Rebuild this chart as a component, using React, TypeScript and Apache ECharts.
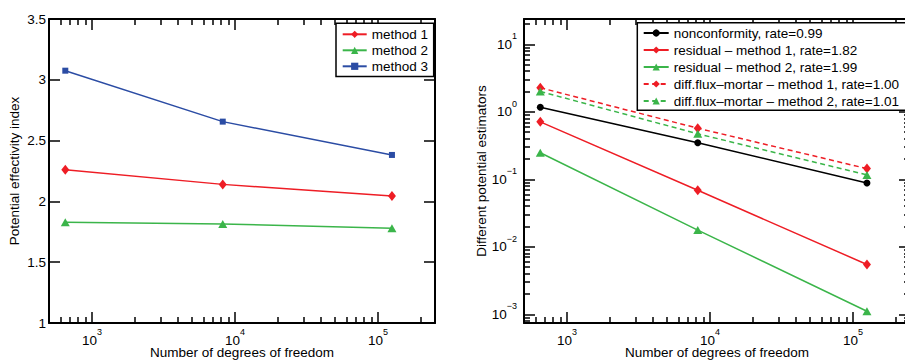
import React, { useEffect, useRef } from 'react';
import * as echarts from 'echarts';

// ---- data ----
const dof = [650, 8200, 125000];

const leftNames = ['method 1', 'method 2', 'method 3'];
const method1 = [2.26, 2.14, 2.045];
const method2 = [1.828, 1.814, 1.779];
const method3 = [3.075, 2.656, 2.382];

const rightNames = [
  'nonconformity, rate=0.99',
  'residual \u2013 method 1, rate=1.82',
  'residual \u2013 method 2, rate=1.99',
  'diff.flux\u2013mortar \u2013 method 1, rate=1.00',
  'diff.flux\u2013mortar \u2013 method 2, rate=1.01',
];
const nonconformity = [1.17, 0.347, 0.088];
const residual1 = [0.71, 0.0687, 0.00547];
const residual2 = [0.247, 0.0177, 0.00111];
const diffFlux1 = [2.27, 0.571, 0.144];
const diffFlux2 = [2.0, 0.472, 0.116];

// ---- axes ----
const xDecades = [1000, 10000, 100000];
const yDecades = [0.001, 0.01, 0.1, 1, 10];
const X_MIN = 500;
const X_MAX = 250000;
const LY_MIN = 1;
const LY_MAX = 3.5;
const LY_STEP = 0.5;
const RY_MIN = 0.000743;
const RY_MAX = 23.7;

function minorTicks(lo: number, hi: number): number[] {
  const out: number[] = [];
  for (let k = -5; k <= 6; k++) {
    for (let m = 2; m <= 9; m++) {
      const v = Number((m * Math.pow(10, k)).toPrecision(6));
      if (v > lo && v < hi) out.push(v);
    }
  }
  return out;
}
const xMinor = minorTicks(X_MIN, X_MAX);
const yMinor = minorTicks(RY_MIN, RY_MAX);

const FONT = '"Liberation Sans", Arial, Helvetica, sans-serif';
const FS = 13.5;
const RED = '#ee1d25';
const GREEN = '#3bb54a';
const BLUE = '#2b4ca4';
const BLACK = '#000000';
const MAJOR = 11;
const MINOR = 6;

const rich = {
  b: { fontSize: FS, lineHeight: 14, fontFamily: FONT, color: '#000' },
  s: { fontSize: 9, lineHeight: 9, padding: [0, 0, 16, 0], fontFamily: FONT, color: '#000' },
};
const supFmt = (v: number) => {
  const e = Math.round(Math.log10(v));
  return '{b|10}{s|' + (e < 0 ? '\u2212' + -e : String(e)) + '}';
};
const nameStyle = { fontSize: FS, fontFamily: FONT, color: '#000' };
const lineAxis = { show: true, onZero: false, lineStyle: { color: '#000', width: 2 } };
const tickStyle = { color: '#000', width: 1.5 };
const majorTick = { show: true, inside: true, length: MAJOR, lineStyle: tickStyle };
const minorTick = { show: true, inside: true, length: MINOR, lineStyle: tickStyle };

// one axis per side for the frame, labels and major ticks; a companion axis carries the minor ticks
function xAxesFor(g: number) {
  const base = { type: 'log', gridIndex: g, min: X_MIN, max: X_MAX, splitLine: { show: false } };
  return [
    {
      ...base,
      position: 'bottom',
      axisLine: lineAxis,
      axisTick: { ...majorTick, customValues: xDecades },
      axisLabel: { show: true, customValues: xDecades, formatter: supFmt, rich, margin: 10 },
      name: 'Number of degrees of freedom',
      nameLocation: 'middle',
      nameGap: 22,
      nameMoveOverlap: false,
      nameTextStyle: nameStyle,
    },
    { ...base, position: 'top', axisLine: lineAxis, axisTick: { ...majorTick, customValues: xDecades }, axisLabel: { show: false } },
    { ...base, position: 'bottom', axisLine: { show: false }, axisTick: { ...minorTick, customValues: xMinor }, axisLabel: { show: false } },
    { ...base, position: 'top', axisLine: { show: false }, axisTick: { ...minorTick, customValues: xMinor }, axisLabel: { show: false } },
  ];
}

const yAxes = [
  {
    type: 'value', gridIndex: 0, min: LY_MIN, max: LY_MAX, interval: LY_STEP, position: 'left',
    axisLine: lineAxis, axisTick: majorTick,
    axisLabel: { show: true, margin: 3, fontSize: FS, fontFamily: FONT, color: '#000' },
    splitLine: { show: false },
    name: 'Potential effectivity index', nameLocation: 'middle', nameGap: 28,
    nameMoveOverlap: false, nameTextStyle: nameStyle,
  },
  {
    type: 'value', gridIndex: 0, min: LY_MIN, max: LY_MAX, interval: LY_STEP, position: 'right',
    axisLine: lineAxis, axisTick: majorTick, axisLabel: { show: false }, splitLine: { show: false },
  },
  {
    type: 'log', gridIndex: 1, min: RY_MIN, max: RY_MAX, position: 'left',
    axisLine: lineAxis, axisTick: { ...majorTick, customValues: yDecades },
    axisLabel: { show: true, customValues: yDecades, formatter: supFmt, rich, margin: 7 },
    splitLine: { show: false },
    name: 'Different potential estimators', nameLocation: 'middle', nameGap: 35.5,
    nameMoveOverlap: false, nameTextStyle: nameStyle,
  },
  {
    type: 'log', gridIndex: 1, min: RY_MIN, max: RY_MAX, position: 'right',
    axisLine: lineAxis, axisTick: { ...majorTick, customValues: yDecades }, axisLabel: { show: false }, splitLine: { show: false },
  },
  {
    type: 'log', gridIndex: 1, min: RY_MIN, max: RY_MAX, position: 'left',
    axisLine: { show: false }, axisTick: { ...minorTick, customValues: yMinor }, axisLabel: { show: false }, splitLine: { show: false },
  },
  {
    type: 'log', gridIndex: 1, min: RY_MIN, max: RY_MAX, position: 'right',
    axisLine: { show: false }, axisTick: { ...minorTick, customValues: yMinor }, axisLabel: { show: false }, splitLine: { show: false },
  },
];

const pairs = (ys: number[]) => ys.map((y, i) => [dof[i], y]);

function lineSeries(
  name: string, ys: number[], color: string, symbol: string, symbolSize: any,
  xi: number, yi: number, dashed = false
) {
  return {
    type: 'line', name, data: pairs(ys), xAxisIndex: xi, yAxisIndex: yi,
    symbol, symbolSize, showSymbol: true,
    color,
    itemStyle: { color },
    lineStyle: { color, width: 1.5, type: dashed ? [5, 3.5] : 'solid' },
    emphasis: { disabled: true },
    z: 3,
  };
}

const legendText = { fontSize: FS, fontFamily: FONT, color: '#000' };

export default function App() {
  const ref = useRef<HTMLDivElement>(null);
  useEffect(() => {
    document.body.style.margin = '0';
    if (!ref.current) return;
    const chart = echarts.init(ref.current, undefined, { renderer: 'svg' });
    chart.setOption({
      animation: false,
      backgroundColor: '#fff',
      grid: [
        { left: 49, top: 19, width: 386, height: 304, containLabel: false, outerBoundsMode: 'none' },
        { left: 524, top: 19, width: 386, height: 304, containLabel: false, outerBoundsMode: 'none' },
      ],
      xAxis: [...xAxesFor(0), ...xAxesFor(1)],
      yAxis: yAxes,
      legend: [
        {
          data: leftNames, orient: 'vertical', left: 336, top: 23.3,
          padding: [4, 5.7, 3.3, 5.7], itemGap: 2, itemWidth: 24, itemHeight: 9,
          textStyle: legendText, borderColor: '#000', borderWidth: 1.5, backgroundColor: '#fff',
          selectedMode: false, z: 10,
        },
        {
          data: rightNames, orient: 'vertical', left: 637.3, top: 22.7,
          padding: [3.3, 8, 2.3, 5.4], itemGap: 3, itemWidth: 25, itemHeight: 9,
          textStyle: legendText, borderColor: '#000', borderWidth: 1.5, backgroundColor: '#fff',
          selectedMode: false, z: 10,
        },
      ],
      series: [
        lineSeries(leftNames[0], method1, RED, 'diamond', [8, 10], 0, 0),
        lineSeries(leftNames[1], method2, GREEN, 'triangle', [9, 8], 0, 0),
        lineSeries(leftNames[2], method3, BLUE, 'rect', [6, 6], 0, 0),
        lineSeries(rightNames[0], nonconformity, BLACK, 'circle', 7, 4, 2),
        lineSeries(rightNames[1], residual1, RED, 'diamond', [8, 10], 4, 2),
        lineSeries(rightNames[2], residual2, GREEN, 'triangle', [9, 8], 4, 2),
        lineSeries(rightNames[3], diffFlux1, RED, 'diamond', [8, 10], 4, 2, true),
        lineSeries(rightNames[4], diffFlux2, GREEN, 'triangle', [9, 8], 4, 2, true),
      ],
    });
    return () => chart.dispose();
  }, []);
  return <div ref={ref} style={{ width: 905, height: 360 }} />;
}
